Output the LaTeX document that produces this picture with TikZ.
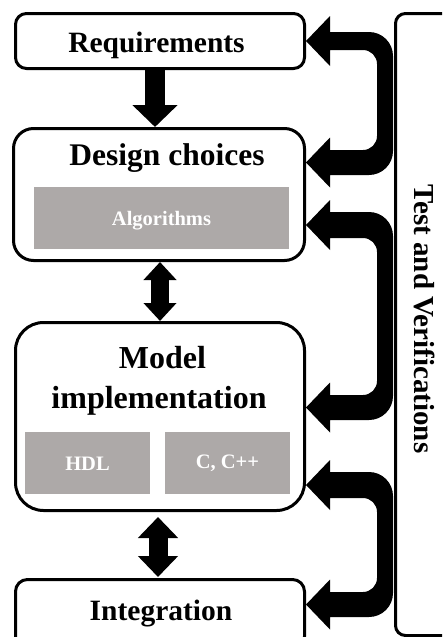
\documentclass[tikz,border=0pt]{standalone}
\usepackage{fontspec}
\setmainfont{Liberation Serif}
\usetikzlibrary{arrows.meta,calc}
\definecolor{boxgray}{RGB}{173,169,168}
% curved double-headed block arrow: #1 top tip, #2 bottom tip, #3/#4 half band thickness
\newcommand\tvloop[4]{%
  \fill (#1) -- ($(#1)+(24,-25)$) -- ($(#1)+(24,-#3)$) -- ($(#1)+(63,-#3)$)
    arc[start angle=270,end angle=360,radius=24] -- ($(#2)+(87,#4-24)$)
    arc[start angle=0,end angle=90,radius=24] -- ($(#2)+(24,#4)$)
    -- ($(#2)+(24,25)$) -- (#2) -- ($(#2)+(24,-25)$) -- ($(#2)+(24,-#4)$)
    -- ($(#2)+(57,-#4)$) arc[start angle=90,end angle=0,radius=14]
    -- ($(#1)+(71,#3+14)$) arc[start angle=360,end angle=270,radius=14]
    -- ($(#1)+(24,#3)$) -- ($(#1)+(24,25)$) -- cycle;}
\begin{document}
\begin{tikzpicture}[x=1pt,y=-1pt,
  stage/.style={draw, line width=3pt, fill=white, inner sep=0pt},
  lbl/.style={anchor=base, inner sep=0pt, font=\bfseries\fontsize{#1}{#1}\selectfont},
  gbox/.style={fill=boxgray, inner sep=0pt},
  gtext/.style={anchor=base, inner sep=0pt, text=white, font=\bfseries\fontsize{20.5}{20.5}\selectfont}]
\useasboundingbox (0,0) rectangle (442,637);
\clip (0,0) rectangle (442,637);
\fill[white] (0,0) rectangle (442,637);

\node[stage, rounded corners=11pt, minimum width=289pt, minimum height=55pt] (req) at (160,41) {};
\node[lbl=29.5] (reqt) at (156.5,52) {Requirements};

\node[stage, rounded corners=20pt, minimum width=291pt, minimum height=132pt] (des) at (159,194.5) {};
\node[lbl=31.5] (dest) at (167,165) {Design choices};
\node[gbox, minimum width=255pt, minimum height=62pt] (alg) at (161.5,217.5) {};
\node[gtext] (algt) at (161.5,225) {Algorithms};

\node[stage, rounded corners=28pt, minimum width=289pt, minimum height=188pt] (mod) at (160,416.5) {};
\node[lbl=32] (modt1) at (162.5,368) {Model};
\node[lbl=32] (modt2) at (159,408) {implementation};
\node[gbox, minimum width=125pt, minimum height=62pt] (hdl) at (87.5,463) {};
\node[gtext] (hdlt) at (87.5,470) {HDL};
\node[gbox, minimum width=125pt, minimum height=62pt] (cpp) at (227.5,463) {};
\node[gtext] (cppt) at (227.5,468) {C, C++};

\node[stage, rounded corners=12pt, minimum width=289pt, minimum height=69pt] (int) at (160,614) {};
\node[lbl=29.5] (intt) at (161,620) {Integration};

\node[stage, rounded corners=10pt, minimum width=84.5pt, minimum height=622pt] (tv) at (437.75,324.5) {};
\node[rotate=-90, inner sep=0pt, font=\bfseries\fontsize{29}{29}\selectfont] (tvt) at (424,319) {Test and Verifications};

% straight block arrows
\draw[line width=20pt, -{Triangle[width=44pt,length=22pt]}] ($(req.south)+(-5,0)$) -- ($(des.north)+(-4,0)$);
\draw[line width=18pt, {Triangle[width=32pt,length=18pt]}-{Triangle[width=32pt,length=18pt]}] ($(des.south)+(1,0)$) -- (mod.north);
\draw[line width=19pt, {Triangle[width=39pt,length=21pt]}-{Triangle[width=39pt,length=21pt]}] ($(mod.south)+(-2,5)$) -- ($(int.north)+(-2,-1)$);

% curved arrows to test and verification
\coordinate (r1) at (req.east);
\coordinate (d1) at (des.east |- 0,162.5);
\coordinate (d2) at (des.east |- 0,225);
\coordinate (m1) at (mod.east |- 0,407.5);
\coordinate (m2) at (mod.east |- 0,485);
\coordinate (i1) at (int.east |- 0,604.5);
\tvloop{r1}{d1}{9}{12.5}
\tvloop{d2}{m1}{13}{12.5}
\tvloop{m2}{i1}{13}{12.5}
\end{tikzpicture}
\end{document}
